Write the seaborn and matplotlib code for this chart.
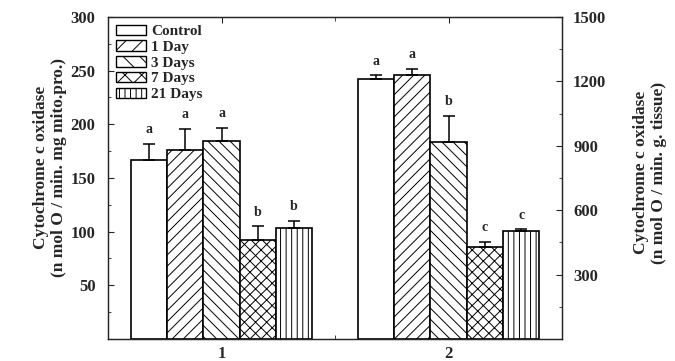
import numpy as np
import pandas as pd
import matplotlib
matplotlib.use("Agg")
import matplotlib.pyplot as plt
import seaborn as sns
from matplotlib.patches import Patch
from matplotlib.ticker import MultipleLocator

# values
treatments = ["Control", "1 Day", "3 Days", "7 Days", "21 Days"]
hatches = ["", "///", "\\\\\\", "xxx", "|||"]
legend_hatches = ["", "//", "\\\\", "xx", "|||"]
groups = [1, 2]

g1_mean = [167, 176, 184, 92, 103]
g1_err = [15, 20, 13, 13, 7]
g1_letters = ["a", "a", "a", "b", "b"]

g2_mean = [1209, 1228, 919, 430, 503]
g2_err = [19, 30, 120, 22, 7]
g2_letters = ["a", "a", "b", "c", "c"]

bar_w = 0.16

sns.set_style("ticks", {"xtick.direction": "in", "ytick.direction": "in"})
plt.rcParams["font.family"] = ["Liberation Serif", "DejaVu Serif"]
plt.rcParams["font.weight"] = "bold"
plt.rcParams["hatch.linewidth"] = 0.7
plt.rcParams["axes.linewidth"] = 0.9


def make_df(group, means):
    offsets = (np.arange(len(treatments)) - (len(treatments) - 1) / 2) * bar_w
    return pd.DataFrame({"pos": group + offsets, "value": means, "treatment": treatments})


df1 = make_df(groups[0], g1_mean)
df2 = make_df(groups[1], g2_mean)

fig = plt.figure(figsize=(6.75, 3.61), dpi=100)
ax = fig.add_axes([0.16, 0.061, 0.6726, 0.892])
ax2 = ax.twinx()

for a, df, err, letters in [(ax, df1, g1_err, g1_letters), (ax2, df2, g2_err, g2_letters)]:
    sns.barplot(data=df, x="pos", y="value", hue="treatment", hue_order=treatments,
                palette=["white"] * 5, dodge=False, native_scale=True, width=1.0,
                edgecolor="black", linewidth=1.2, errorbar=None, legend=False, ax=a)
    for patch, h in zip(a.patches, hatches):
        patch.set_hatch(h)
    a.errorbar(df["pos"], df["value"], yerr=[np.zeros(len(err)), err], fmt="none",
               ecolor="black", elinewidth=1.1, capsize=4.5, capthick=1.1, zorder=5)
    for x, y, e, t in zip(df["pos"], df["value"], err, letters):
        a.annotate(t, (x, y + e), xytext=(0, 5.5), textcoords="offset points",
                   ha="center", va="bottom", fontsize=10, fontweight="bold")

ax.set_xlim(0.5, 2.5)
ax.set_ylim(0, 300)
ax2.set_ylim(0, 1500)

ax.set_xticks(groups, labels=[str(g) for g in groups])
ax.xaxis.set_minor_locator(MultipleLocator(0.5))
ax.set_yticks([50, 100, 150, 200, 250, 300])
ax.yaxis.set_minor_locator(MultipleLocator(25))
ax2.set_yticks([300, 600, 900, 1200, 1500])
ax2.yaxis.set_minor_locator(MultipleLocator(150))

ax.tick_params(axis="x", which="both", direction="in", top=True, labelsize=12, pad=5)
ax.tick_params(axis="x", which="major", length=4)
ax.tick_params(axis="x", which="minor", length=3)
ax.tick_params(axis="y", which="both", direction="in", left=True, right=False, labelsize=12, pad=9)
ax.tick_params(axis="y", which="major", length=4)
ax.tick_params(axis="y", which="minor", length=2.5)
ax2.tick_params(axis="y", which="both", direction="in", labelsize=12, pad=8)
ax2.tick_params(axis="y", which="major", length=4)
ax2.tick_params(axis="y", which="minor", length=2.5)

ax.set_xlabel("")
ax2.set_xlabel("")
ax.set_ylabel("Cytochrome c oxidase\n(n mol O / min. mg mito.pro.)", fontsize=12.5, fontweight="bold")
ax2.set_ylabel("Cytochrome c oxidase\n(n mol O / min. g. tissue)", fontsize=12.5, fontweight="bold")
ax.yaxis.set_label_coords(-0.09, 0.534)
ax2.yaxis.set_label_coords(1.156, 0.516)

handles = [Patch(facecolor="white", edgecolor="black", hatch=h, linewidth=1.0) for h in legend_hatches]
ax2.legend(handles, treatments, loc="upper left", bbox_to_anchor=(0.0, 1.0), frameon=False,
           prop={"size": 11, "weight": "bold"}, handlelength=2.0, handleheight=0.68,
           labelspacing=0.14, handletextpad=0.3, borderaxespad=0.3, borderpad=0.2)

fig.savefig("out.png", dpi=100)
